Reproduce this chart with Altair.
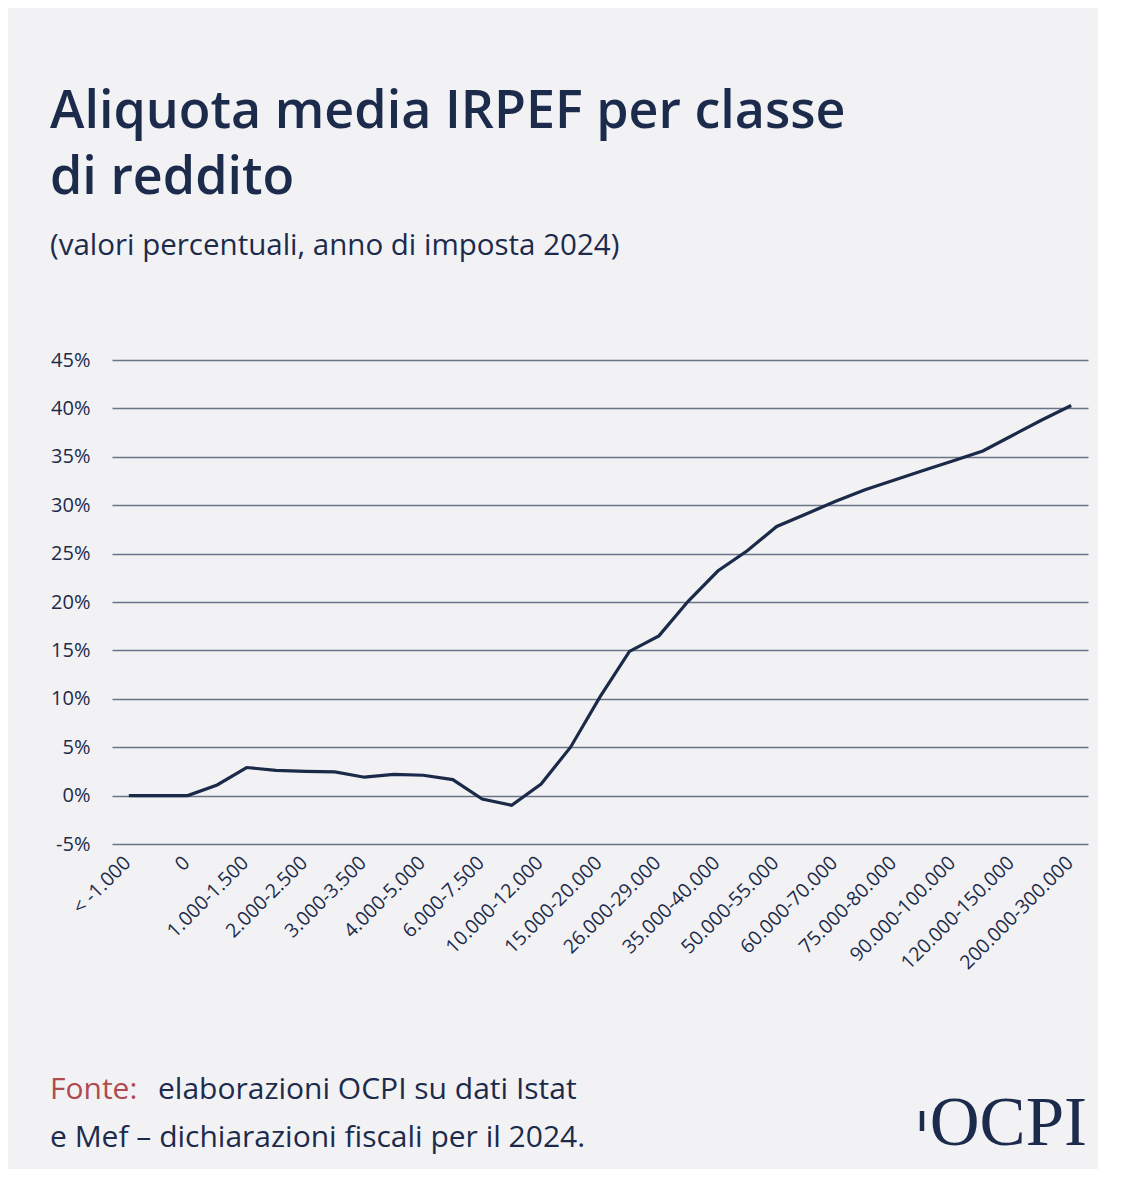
import altair as alt
import pandas as pd

categories = [
    "< -1.000", "-1.000-0", "0", "0-1.000", "1.000-1.500", "1.500-2.000",
    "2.000-2.500", "2.500-3.000", "3.000-3.500", "3.500-4.000", "4.000-5.000",
    "5.000-6.000", "6.000-7.500", "7.500-10.000", "10.000-12.000",
    "12.000-15.000", "15.000-20.000", "20.000-26.000", "26.000-29.000",
    "29.000-35.000", "35.000-40.000", "40.000-50.000", "50.000-55.000",
    "55.000-60.000", "60.000-70.000", "70.000-75.000", "75.000-80.000",
    "80.000-90.000", "90.000-100.000", "100.000-120.000", "120.000-150.000",
    "150.000-200.000", "200.000-300.000",
]
aliquota = [
    0.0, 0.0, 0.0, 1.1, 2.9, 2.6,
    2.5, 2.45, 1.9, 2.2, 2.1,
    1.65, -0.35, -1.0, 1.2,
    5.0, 10.2, 14.9, 16.5,
    20.1, 23.2, 25.3, 27.8,
    29.1, 30.4, 31.6, 32.6,
    33.6, 34.6, 35.6, 37.2,
    38.8, 40.3,
]
shown_labels = categories[::2]
y_ticks = [-5, 0, 5, 10, 15, 20, 25, 30, 35, 40, 45]

title_lines = ["Aliquota media IRPEF per classe", "di reddito"]
subtitle_text = "(valori percentuali, anno di imposta 2024)"
source_label = ["Fonte:"]
source_rest = ["elaborazioni OCPI su dati Istat"]
source_line2 = ["e Mef \u2013 dichiarazioni fiscali per il 2024."]
logo_text = ["OCPI"]

NAVY = "#1c2b4b"
RED = "#b04a52"
BG = "#f2f2f4"
FONT = "Open Sans"

df = pd.DataFrame({"classe": categories, "aliquota": aliquota})

line = alt.Chart(df).mark_line(color="#1b2a48", strokeWidth=3.2).encode(
    x=alt.X(
        "classe:O",
        sort=categories,
        scale=alt.Scale(type="point", padding=0.57),
        axis=alt.Axis(
            title=None, values=shown_labels, labelAngle=-45, labelFont=FONT,
            labelFontSize=19.5, labelColor=NAVY, labelPadding=9, labelOffset=-8,
            ticks=False, domain=False, grid=False, labelOverlap=False,
        ),
    ),
    y=alt.Y(
        "aliquota:Q",
        scale=alt.Scale(domain=[-5, 45], nice=False, zero=False),
        axis=alt.Axis(
            title=None, values=y_ticks, labelExpr="datum.value + '%'",
            labelFont=FONT, labelFontSize=20, labelColor=NAVY,
            labelPadding=22, ticks=False, domain=False, grid=True,
            gridColor="#6a7486", gridWidth=1.6,
        ),
    ),
)

src1 = alt.Chart(pd.DataFrame({"t": source_label})).mark_text(
    align="left", baseline="alphabetic", font=FONT, fontSize=30, color=RED
).encode(text="t:N", x=alt.value(-62), y=alt.value(739))

src2 = alt.Chart(pd.DataFrame({"t": source_rest})).mark_text(
    align="left", baseline="alphabetic", font=FONT, fontSize=30, color=NAVY
).encode(text="t:N", x=alt.value(46), y=alt.value(739))

src3 = alt.Chart(pd.DataFrame({"t": source_line2})).mark_text(
    align="left", baseline="alphabetic", font=FONT, fontSize=30, color=NAVY
).encode(text="t:N", x=alt.value(-62), y=alt.value(787))

logo = alt.Chart(pd.DataFrame({"t": logo_text})).mark_text(
    align="right", baseline="alphabetic", font="Liberation Serif",
    fontSize=69, color=NAVY
).encode(text="t:N", x=alt.value(975), y=alt.value(785))

logo_bar = alt.Chart(pd.DataFrame({"t": logo_text})).mark_rule(
    color=NAVY, strokeWidth=4.5
).encode(x=alt.value(810), y=alt.value(751), y2=alt.value(771))

chart = alt.layer(line, src1, src2, src3, logo, logo_bar).properties(
    width=976,
    height=484,
    background=BG,
    padding={"left": 42, "top": 77, "right": 10, "bottom": 10},
    title=alt.TitleParams(
        text=title_lines,
        subtitle=subtitle_text,
        anchor="start",
        frame="bounds",
        font=FONT,
        fontSize=52,
        fontWeight=600,
        color=NAVY,
        lineHeight=66,
        subtitleFont=FONT,
        subtitleFontSize=29.5,
        subtitleColor=NAVY,
        subtitlePadding=27,
        offset=89,
    ),
).configure_view(stroke=None)

chart.save("out.html", embed_options={"renderer": "svg", "actions": False})
